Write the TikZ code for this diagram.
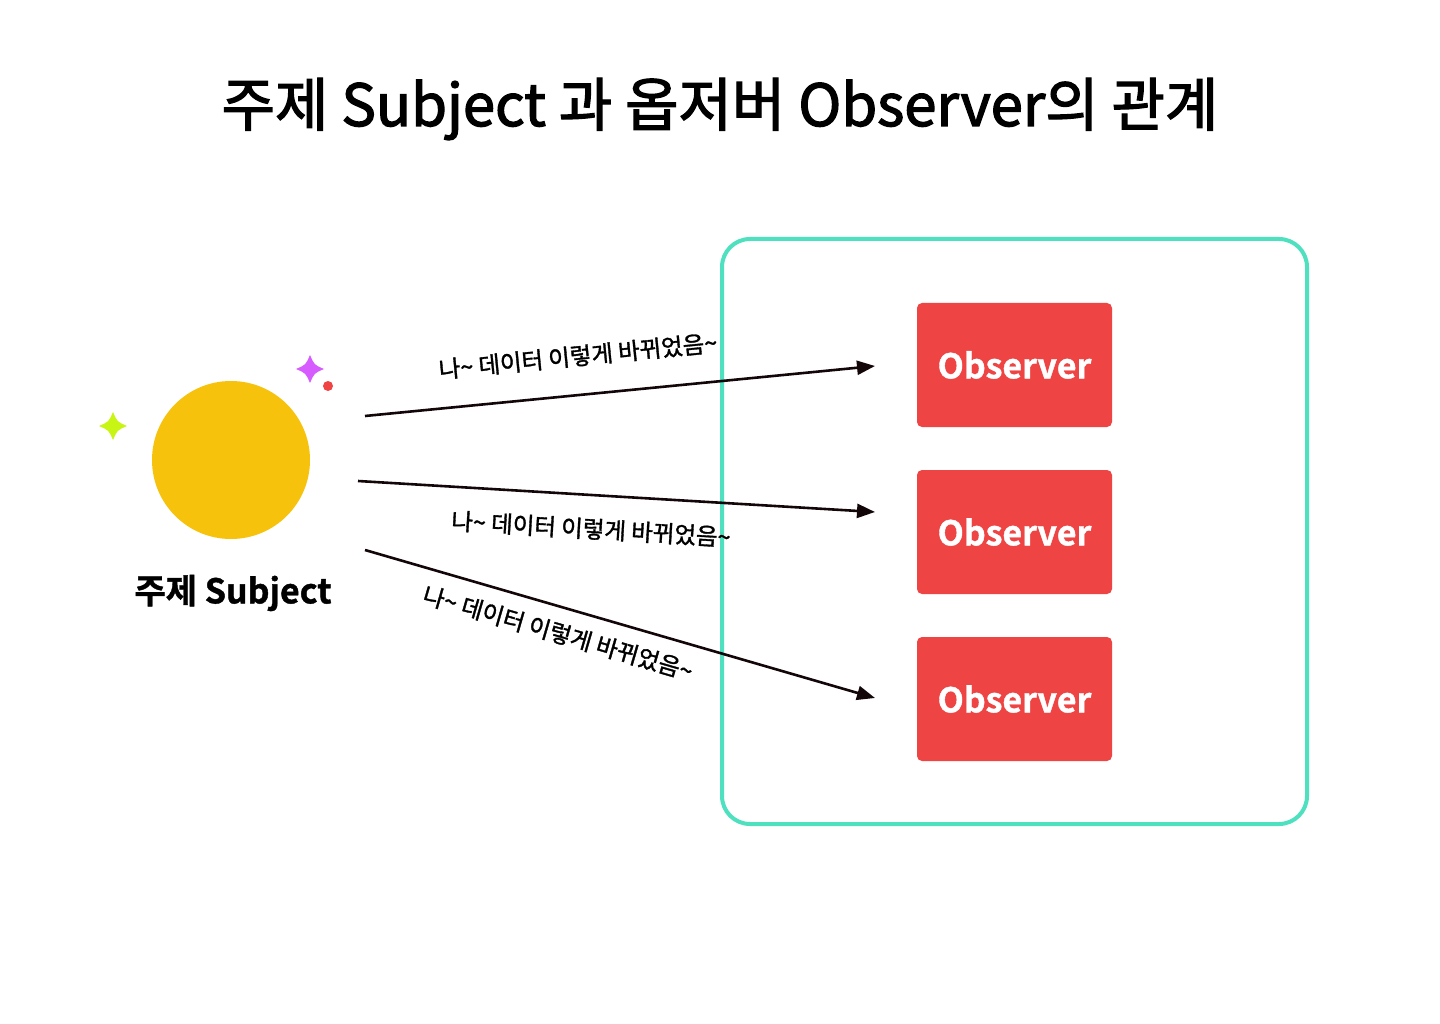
\documentclass[tikz,border=0pt]{standalone}
\usepackage{fontspec}
\setmainfont{Noto Sans CJK KR}[BoldFont={Noto Sans CJK KR Bold}]
\newfontfamily\medfont{Noto Sans CJK KR}[FakeBold=2.2]
\newfontfamily\lblfont{Noto Sans CJK KR}[FakeBold=1.4]
\newfontfamily\heavyfont{Noto Sans CJK KR Bold}[FakeBold=1.2]
\usetikzlibrary{arrows.meta}
\definecolor{sunY}{HTML}{F6C20B}
\definecolor{obsR}{HTML}{EF4444}
\definecolor{frameT}{HTML}{4FE0C0}
\definecolor{sparkG}{HTML}{C8F513}
\definecolor{sparkP}{HTML}{D65CFF}
\definecolor{lineK}{HTML}{120608}
\tikzset{
  obsbox/.style={fill=obsR, rounded corners=5pt, minimum width=195pt, minimum height=124pt, inner sep=0pt, text=white, font=\fontsize{34}{40}\heavyfont},
  msg/.style={draw=lineK, line width=2.6pt, -{Triangle[length=18pt,width=14pt]}},
  msglabel/.style={font=\fontsize{23.5}{28}\lblfont, inner sep=0pt},
}
\newcommand{\sparkle}[4]{%
  \fill[#4] (#1,#2-#3) .. controls (#1+0.3*#3,#2-0.3*#3) .. (#1+#3,#2)
    .. controls (#1+0.3*#3,#2+0.3*#3) .. (#1,#2+#3)
    .. controls (#1-0.3*#3,#2+0.3*#3) .. (#1-#3,#2)
    .. controls (#1-0.3*#3,#2-0.3*#3) .. cycle;}
\begin{document}
\begin{tikzpicture}[x=1pt,y=-1pt]
\useasboundingbox (0,0) rectangle (1440,1024);
\fill[white] (0,0) rectangle (1440,1024);
\node[font=\fontsize{58}{70}\medfont] (title) at (720,109) {주제 Subject 과 옵저버 Observer의 관계};
% frame
\draw[frameT, line width=4pt, rounded corners=28pt] (722,239) rectangle (1307,824);
% subject
\node[circle, fill=sunY, minimum size=158pt, inner sep=0pt] (subj) at (231,460) {};
\node[font=\fontsize{34}{40}\heavyfont] (subjlabel) at (233,593) {주제 Subject};
\sparkle{113}{426}{14}{sparkG}
\sparkle{310}{369}{14}{sparkP}
\fill[obsR] (328,386) circle (5pt);
% observers
\node[obsbox] (o1) at (1014.5,365) {Observer};
\node[obsbox] (o2) at (1014.5,532) {Observer};
\node[obsbox] (o3) at (1014.5,699) {Observer};
% arrows
\coordinate (s1) at (365,416);
\coordinate (s2) at (358,481);
\coordinate (s3) at (365,550);
\coordinate (e1) at (875,366);
\coordinate (e2) at (875,512);
\coordinate (e3) at (875,698);
\draw[msg] (s1) -- (e1);
\draw[msg] (s2) -- (e2);
\draw[msg] (s3) -- (e3);
\node[msglabel, rotate=5.6] (l1) at (578,356) {나\textasciitilde{} 데이터 이렇게 바뀌었음\textasciitilde};
\node[msglabel, rotate=-3.4] (l2) at (591,529) {나\textasciitilde{} 데이터 이렇게 바뀌었음\textasciitilde};
\node[msglabel, rotate=-16.2] (l3) at (558,633) {나\textasciitilde{} 데이터 이렇게 바뀌었음\textasciitilde};
\end{tikzpicture}
\end{document}
